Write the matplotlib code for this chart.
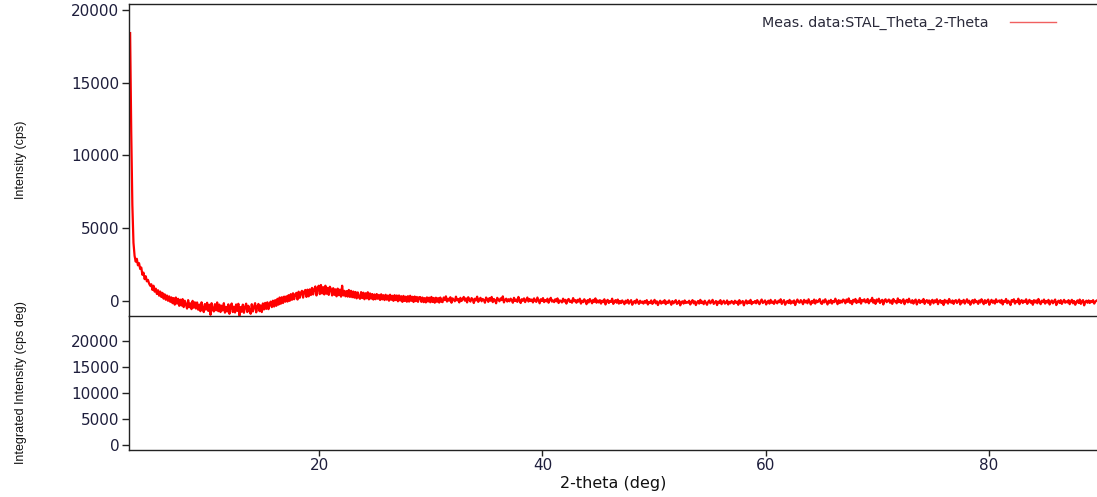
import numpy as np
import matplotlib
matplotlib.use("Agg")
import matplotlib.pyplot as plt

# Theta/2-Theta scan, 0.1 deg step starting at 3.05 deg
start_deg = 3.05
step_deg = 0.1
intensity = [
    18400, 11600, 6600, 4000, 3100, 2700, 2900, 2450, 2600, 2200, 2300, 1800, 1950, 1500, 1700, 1350, 1450, 1200, 1050, 1150,
    760, 1050, 640, 850, 480, 740, 360, 650, 270, 560, 160, 460, 80, 380, 10, 320, -60, 250, -150, 200,
    -250, 240, -180, 150, -330, 90, -310, 130, -420, 20, -260, -520, 60, -430, -160, -560, 10, -460, -90, -520,
    -100, -600, -250, -700, -90, -480, -760, -210, -590, -120, -680, -260, -950, -150, -560, -720, -220, -640, -100, -700,
    -250, -760, -320, -650, -150, -800, -400, -720, -230, -880, -420, -170, -760, -390, -790, -240, -680, -190, -1000, -420,
    -740, -250, -810, -420, -180, -760, -330, -650, -880, -220, -720, -400, -150, -780, -380, -200, -700, -300, -760, -170,
    -580, -130, -540, -90, -560, -200, -40, -420, 20, -380, 60, -330, 150, -250, 240, -190, 260, -140, 300, -50,
    320, -40, 400, 10, 470, 80, 530, 120, 450, 560, 100, 640, 220, 560, 700, 230, 640, 760, 280, 780,
    320, 800, 410, 900, 450, 800, 1000, 380, 860, 1050, 470, 1100, 520, 950, 450, 1050, 500, 900, 420, 980,
    820, 380, 880, 420, 800, 320, 850, 400, 780, 300, 1050, 380, 700, 320, 680, 300, 760, 280, 700, 260,
    650, 230, 620, 180, 590, 260, 150, 610, 200, 570, 120, 530, 180, 600, 110, 520, 160, 480, 100, 450,
    120, 480, 150, 420, 70, 460, 110, 400, 60, 430, 90, 380, 20, 430, 80, 360, 10, 400, 60, 380,
    -20, 380, 30, 330, -60, 350, 0, 300, -50, 330, -40, 360, 10, 290, -70, 310, -10, 280, -60, 260,
    270, -60, 240, -80, 200, -100, 250, -40, 230, -90, 280, -70, 210, -120, 230, -60, 200, -110, 240, -50,
    -80, 240, 60, 320, -40, 160, 20, 260, -120, 180, 80, -20, 300, 40, 140, -100, 220, 0, 120, 280,
    20, 180, -100, 260, 80, -40, 200, 120, -140, 160, 40, 300, -60, 100, 220, -20, 140, 60, -120, 240,
    120, -60, 200, 20, 280, -80, 140, 40, -160, 220, 100, -20, 180, 60, 320, -100, 80, 160, -40, 120,
    -20, 160, 60, -120, 220, 0, 100, -60, 280, 40, -140, 120, 20, 180, -80, 80, 240, -40, 140, 0,
    100, -100, 180, 20, -60, 240, 40, -160, 120, 0, 200, -80, 60, -20, 160, -120, 80, 220, -40, 40,
    -80, 120, -20, 180, -140, 40, 0, -100, 160, -40, 80, -180, 60, 140, -60, 20, -120, 200, -20, 60,
    -120, 80, -40, 160, -180, 20, -80, 120, -20, -220, 60, -100, 140, 0, -160, 80, -60, 180, -120, 40,
    -100, 60, -180, 20, -80, 120, -240, -20, 80, -140, 0, -60, 160, -200, -40, 60, -120, 100, -180, 0,
    -140, 40, -80, -220, 20, -120, 80, -180, -40, 60, -260, -100, 0, -160, 100, -60, -200, 20, -120, -40,
    -180, 0, -120, 60, -240, -60, -140, 40, -200, -80, 80, -160, -20, -280, -100, 20, -180, -40, -120, 60,
    -220, -40, -140, 40, -100, -260, 0, -160, -60, 60, -200, -120, 20, -300, -80, -20, -180, 40, -140, -60,
    -120, 20, -240, -80, 60, -160, -20, -280, -100, 0, -180, 80, -140, -40, -220, 20, -120, -260, -60, 40,
    -160, -60, 80, -200, -100, 0, -280, -40, -140, 60, -220, -80, 20, -180, -120, 40, -240, -60, -160, 0,
    -80, -200, 20, -120, -40, -260, 60, -160, -80, 0, -300, -100, 40, -180, -20, -140, 80, -220, -60, -120,
    0, -160, 60, -100, -220, -20, 100, -140, -60, 40, -240, -80, 20, -180, 80, -120, -40, -200, 60, -100,
    -160, 20, -80, 120, -200, -40, 60, -260, -100, 0, -140, 80, -180, -20, -120, 40, -280, -60, 100, -80,
    -120, 60, -40, -220, 80, -100, 20, -160, 120, -60, -240, 0, -120, 100, -180, 40, -80, -20, 140, -140,
    -200, 40, -100, 120, -60, -240, 20, -120, 80, -180, 0, -80, 160, -40, -220, 60, -140, 20, -100, 100,
    40, -160, 100, -60, 180, -120, 0, -220, 80, -40, 140, -140, 20, -80, 200, -180, 60, -20, 120, -100,
    -60, 140, -160, 40, -20, 220, -120, 60, -200, 100, -40, 160, -140, 0, 80, -240, 40, 120, -80, 20,
    100, -120, 40, -200, 140, -40, 0, -160, 180, -80, 60, -140, 20, 120, -220, -20, 80, -100, 160, -60,
    -120, 60, -180, 0, 100, -240, -40, 80, -140, 20, -80, 140, -200, -20, 60, -120, 40, -260, 0, 80,
    -160, 40, -80, 120, -220, -20, 60, -140, 0, -280, 80, -100, 20, -180, 140, -60, -120, 40, -200, 0,
    60, -140, -20, 100, -240, 0, -100, 80, -180, -40, 120, -120, 20, -260, -60, 60, -160, 100, -80, -20,
    -200, 40, -100, 120, -40, -220, 60, -140, 0, 100, -260, -60, 80, -120, 20, -180, 120, -80, -20, 40,
    -120, 80, -240, 0, -60, 140, -160, 20, -100, -280, 60, -40, 120, -180, 0, -80, 160, -220, -20, 60,
    -140, 20, -80, 120, -200, -40, 80, -120, 0, -260, 60, -100, 40, -160, 140, -60, -220, 20, -80, 100,
    -180, 0, -100, 80, -240, -60, 40, -160, -20, 100, -280, -80, 20, -140, 60, -200, -40, 80, -120, -20,
    -100, 60, -220, -40, 80, -160, 0, -260, -80, 40, -140, 100, -200, -20, 60, -300, -60, 20, -120, 40,
    -140, 0, -80, 60, -180, -40, 20,
]
two_theta = np.round(start_deg + step_deg * np.arange(len(intensity)), 2)

int_ticks = [0, 5000, 10000, 15000, 20000]
x_ticks = [20, 40, 60, 80]
legend_label = "Meas. data:STAL_Theta_2-Theta"

tick_color = "#1e1e3c"
tick_size = 11
label_family = ["Liberation Sans", "DejaVu Sans"]

fig = plt.figure(figsize=(10.97, 4.97), dpi=100)
ax = fig.add_axes([0.1176, 0.3642, 0.8824, 0.6278])
ax2 = fig.add_axes([0.1176, 0.0946, 0.8824, 0.2696], sharex=ax)
ax2.set_facecolor("none")

line, = ax.plot(two_theta, intensity, color="red", linewidth=1.6, label=legend_label)

ax.set_xlim(2.95, 89.7)
ax.set_ylim(-1030, 20400)
ax2.set_ylim(-960, 24800)

for a in (ax, ax2):
    a.spines["right"].set_visible(False)
    for s in a.spines.values():
        s.set_color("#222222")
        s.set_linewidth(1.0)
    a.set_yticks(int_ticks)
    a.tick_params(axis="y", direction="out", length=5, width=1, color="#222222",
                  labelcolor=tick_color, labelsize=tick_size, pad=2)

ax2.spines["top"].set_visible(False)
ax.spines["bottom"].set_zorder(5)
ax.tick_params(axis="x", bottom=False, labelbottom=False)
ax2.set_xticks(x_ticks)
ax2.tick_params(axis="x", direction="out", length=4, width=1, color="#222222",
                labelcolor=tick_color, labelsize=tick_size, pad=2)

ax.set_ylabel("Intensity (cps)", family=label_family, fontsize=9, color="#111111")
ax.yaxis.set_label_coords(-0.105, 0.5)
ax2.set_ylabel("Integrated Intensity (cps deg)", family=label_family, fontsize=9,
               color="#111111")
ax2.yaxis.set_label_coords(-0.105, 0.5)
ax2.set_xlabel("2-theta (deg)", fontsize=11.5, color="#111111", labelpad=2)

leg = ax.legend(loc="center right", bbox_to_anchor=(0.9576, 0.939), frameon=False,
                markerfirst=False, borderpad=0, borderaxespad=0, handlelength=3.2,
                handletextpad=1.5, prop=dict(size=10.3))
for t in leg.get_texts():
    t.set_color("#2a2a3a")
for h in leg.get_lines():
    h.set_linewidth(1.0)
    h.set_color("#f06060")

fig.savefig("out.png", dpi=100)
